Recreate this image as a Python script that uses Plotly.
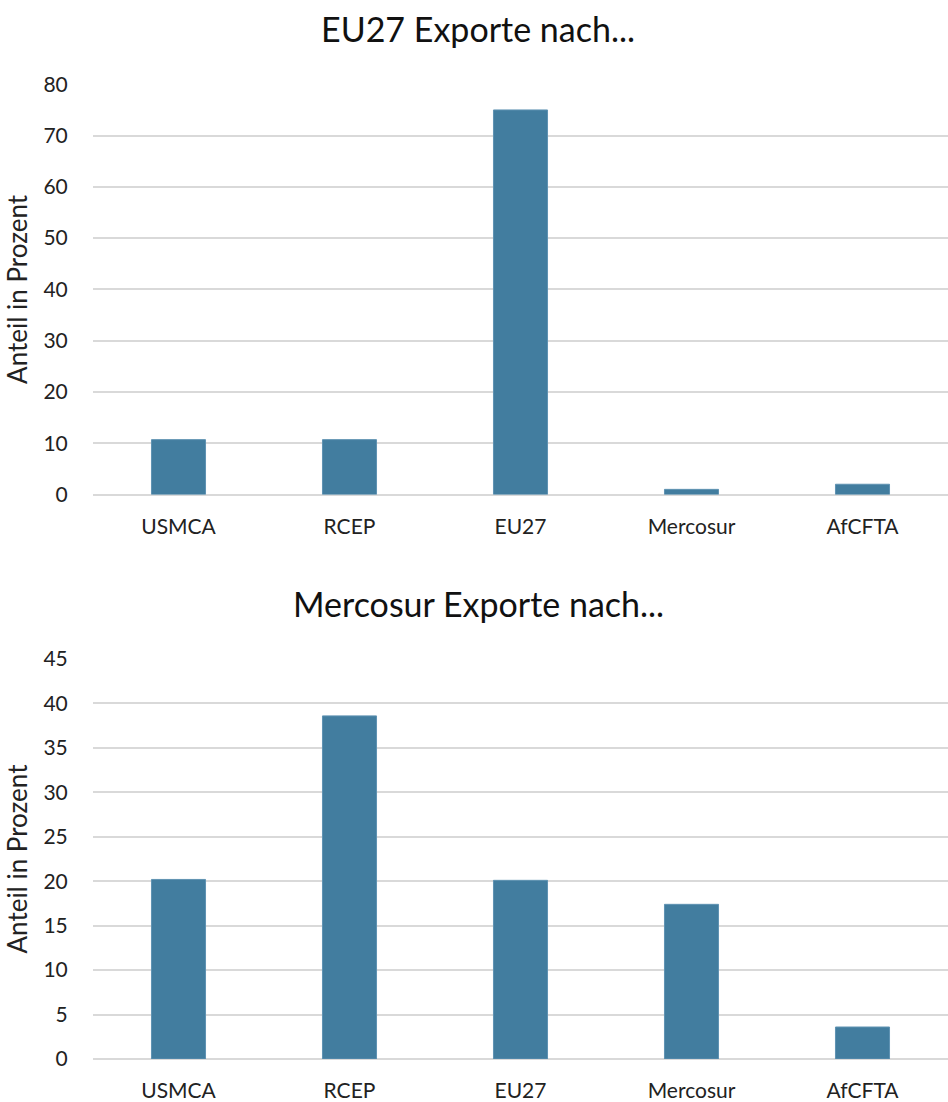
import plotly.graph_objects as go
from plotly.subplots import make_subplots

categories = ["USMCA", "RCEP", "EU27", "Mercosur", "AfCFTA"]
eu27_exports = [10.7, 10.7, 75.0, 1.0, 2.0]
mercosur_exports = [20.2, 38.6, 20.1, 17.4, 3.6]
titles = ["EU27 Exporte nach...", "Mercosur Exporte nach..."]
y_title = "Anteil in Prozent"
top_ticks = list(range(0, 81, 10))
bottom_ticks = list(range(0, 46, 5))

W, H = 948, 1102
L = 93
BAR = "#427D9F"
GRID = "#D9D9D9"
FONT = "Lato, 'Noto Sans', sans-serif"

def py(px):
    return 1 - px / H

fig = make_subplots(rows=2, cols=1)
fig.add_trace(go.Bar(x=categories, y=eu27_exports, marker_color=BAR,
                     marker_line_color="#5F93B2", marker_line_width=1,
                     showlegend=False), row=1, col=1)
fig.add_trace(go.Bar(x=categories, y=mercosur_exports, marker_color=BAR,
                     marker_line_color="#5F93B2", marker_line_width=1,
                     showlegend=False), row=2, col=1)

axis_common = dict(showgrid=True, gridcolor=GRID, gridwidth=1.5,
                   zeroline=True, zerolinecolor=GRID, zerolinewidth=1.5,
                   showline=False, ticks="outside", ticklen=20, automargin=False,
                   tickcolor="rgba(0,0,0,0)", tickfont=dict(size=21, color="#222"),
                   title=dict(text=y_title, font=dict(size=26, color="#222"), standoff=8))
xaxis_common = dict(showgrid=False, showline=False, ticks="outside", ticklen=13,
                    automargin=False,
                    tickcolor="rgba(0,0,0,0)", tickfont=dict(size=21, color="#222"))

fig.update_yaxes(range=[0, 80], tickvals=top_ticks, domain=[py(494.5), py(84.3)],
                 **axis_common, row=1, col=1)
fig.update_yaxes(range=[0, 45], tickvals=bottom_ticks, domain=[py(1059), py(659)],
                 **axis_common, row=2, col=1)
fig.update_xaxes(domain=[0, 1], **xaxis_common, row=1, col=1)
fig.update_xaxes(domain=[0, 1], **xaxis_common, row=2, col=1)

title_x = (478 - L) / (W - L)
fig.add_annotation(text=titles[0], x=title_x, y=py(29), xref="paper", yref="paper",
                   xanchor="center", yanchor="middle", showarrow=False,
                   font=dict(size=34, color="#111", family=FONT))
fig.add_annotation(text=titles[1], x=title_x, y=py(603), xref="paper", yref="paper",
                   xanchor="center", yanchor="middle", showarrow=False,
                   font=dict(size=34, color="#111", family=FONT))

fig.update_layout(width=W, height=H, margin=dict(l=L, r=0, t=0, b=0),
                  plot_bgcolor="white", paper_bgcolor="white",
                  bargap=0.684, font=dict(family=FONT, color="#222"))

fig.write_html("out.html", config={"displayModeBar": False},
               post_script="document.body.style.margin='0';document.body.style.overflow='hidden';")
